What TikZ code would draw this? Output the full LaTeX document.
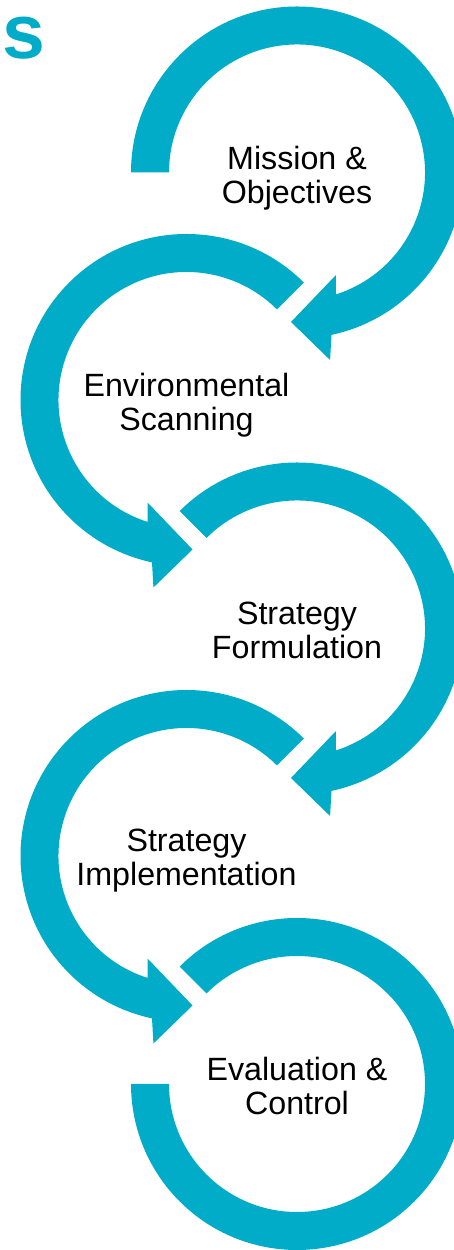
\documentclass[tikz,border=0pt]{standalone}
\usepackage{fontspec}
\setmainfont{Liberation Sans}
\definecolor{brand}{HTML}{00ACC8}
\tikzset{
  lbl/.style={align=center, anchor=north, inner sep=0pt,
    font=\fontsize{32.2}{33.8}\selectfont, text=black},
  ringfill/.style={fill=brand, draw=none},
}
\newcommand\arrowring[1]{%
  \path[ringfill] (#1:166) arc[start angle=#1,end angle=-78,radius=166]
    -- (-80:190.4) -- (-92.3:149.6) -- (-69.2:109.7) -- (-72.3:128)
    arc[start angle=-72.3,end angle=#1,radius=128] -- cycle;}
\begin{document}
\begin{tikzpicture}[x=1pt,y=1pt]
\useasboundingbox (0,0) rectangle (454,1250);
\clip (0,0) rectangle (454,1250);
\coordinate (c1) at (297,1077.5);
\coordinate (c2) at (186.5,850);
\coordinate (c3) at (297,621.5);
\coordinate (c4) at (186.5,394);
\coordinate (c5) at (297,166);
\begin{scope}[shift={(c1)}] \arrowring{180} \end{scope}
\begin{scope}[shift={(c2)},xscale=-1] \arrowring{135} \end{scope}
\begin{scope}[shift={(c3)}] \arrowring{135} \end{scope}
\begin{scope}[shift={(c4)},xscale=-1] \arrowring{135} \end{scope}
\begin{scope}[shift={(c5)}]
  \path[ringfill] (135:166) arc[start angle=135,end angle=-180,radius=166]
    -- (180:128) arc[start angle=-180,end angle=135,radius=128] -- cycle;
\end{scope}
\node[lbl] (t1) at ([yshift=26.8pt]c1) {Mission \&\\Objectives};
\node[lbl] (t2) at ([yshift=26.8pt]c2) {Environmental\\Scanning};
\node[lbl] (t3) at ([yshift=26.8pt]c3) {Strategy\\Formulation};
\node[lbl] (t4) at ([yshift=26.8pt]c4) {Strategy\\Implementation};
\node[lbl] (t5) at ([yshift=26.8pt]c5) {Evaluation \&\\Control};
\node[font=\fontsize{77}{80}\selectfont\bfseries, text=brand, anchor=base west, inner sep=0pt] (title) at (2.7,1191) {s};
\end{tikzpicture}
\end{document}
